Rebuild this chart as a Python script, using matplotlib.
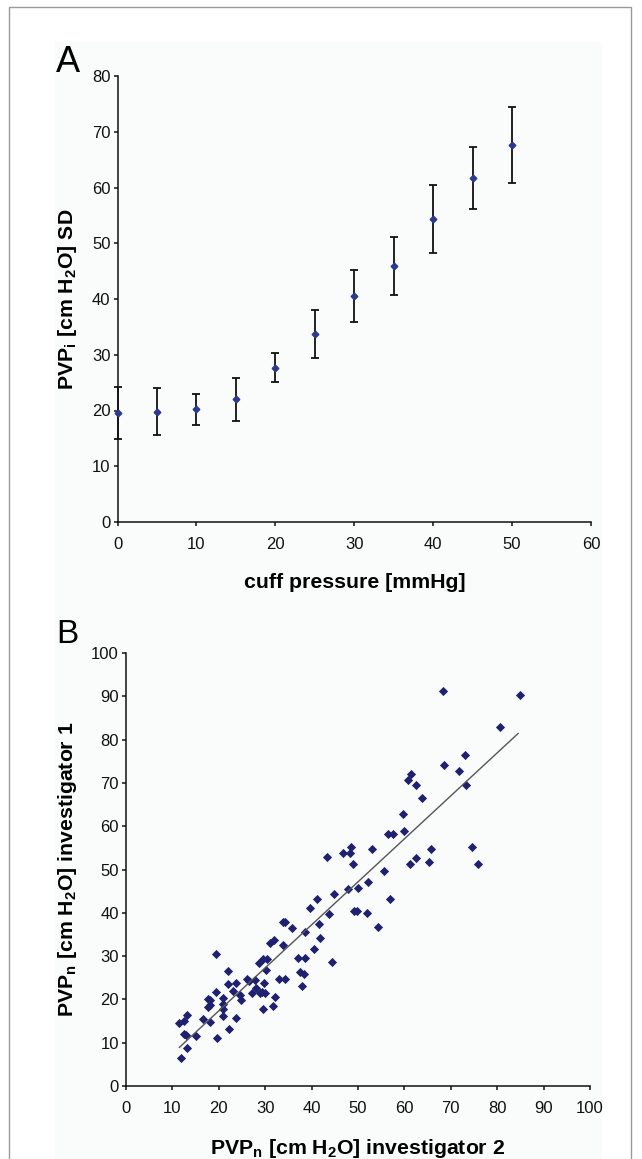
import matplotlib
matplotlib.use("Agg")
import matplotlib.pyplot as plt
from matplotlib.patches import Rectangle
import numpy as np

plt.rcParams['font.family'] = ['Liberation Sans', 'DejaVu Sans']
plt.rcParams['mathtext.fontset'] = 'custom'
plt.rcParams['mathtext.rm'] = 'Liberation Sans'
plt.rcParams['mathtext.default'] = 'regular'

# panel A: mean +/- SD per cuff pressure
cuff = [0, 5, 10, 15, 20, 25, 30, 35, 40, 45, 50]
pvp_mean = [19.6, 19.8, 20.2, 22.0, 27.7, 33.7, 40.5, 45.9, 54.3, 61.7, 67.6]
pvp_sd = [4.7, 4.2, 2.8, 3.9, 2.55, 4.3, 4.65, 5.2, 6.1, 5.6, 6.75]

# panel B: investigator 2 (x) vs investigator 1 (y)
inv2 = [11.85, 13.1, 11.5, 12.4, 13.2, 12.5, 12.9, 15.1, 16.7, 18.2,
        19.7, 17.6, 18.0, 17.7, 18.2, 19.4, 20.8, 21.0, 21.0, 20.8,
        22.1, 23.6, 19.4, 21.9, 21.9, 23.7, 23.0, 24.6, 24.8, 26.1,
        26.5, 27.1, 27.8, 28.0, 28.9, 29.4, 30.0, 28.6, 29.6, 30.3,
        29.7, 30.2, 29.5, 31.6, 32.1, 33.0, 34.3, 31.0, 31.9, 33.9,
        37.0, 38.6, 37.6, 38.4, 37.9, 40.6, 41.8, 44.5, 38.5, 33.9,
        34.3, 35.7, 41.6, 39.7, 41.2, 43.7, 44.9, 43.4, 46.7, 48.2,
        48.5, 47.9, 49.0, 53.0, 56.5, 57.6, 60.0, 55.5, 52.1, 50.1,
        49.1, 49.8, 51.9, 56.9, 54.4, 61.2, 62.5, 65.2, 65.7, 74.6,
        75.9, 68.4, 84.9, 80.5, 73.0, 71.8, 68.5, 73.3, 61.5, 60.8,
        62.6, 63.9, 59.8]
inv1 = [6.5, 8.7, 14.5, 14.9, 16.5, 12.0, 11.8, 11.6, 15.4, 14.8,
        11.0, 18.2, 18.6, 20.0, 19.9, 21.7, 20.4, 18.9, 17.8, 16.2,
        13.1, 15.8, 30.6, 26.5, 23.6, 23.7, 22.0, 21.0, 19.9, 24.6,
        24.3, 21.4, 24.5, 22.6, 21.4, 21.8, 21.4, 28.5, 29.3, 29.3,
        23.9, 26.8, 17.8, 18.5, 20.6, 24.6, 24.6, 33.0, 33.7, 32.6,
        29.6, 29.6, 26.4, 25.9, 23.1, 31.6, 34.2, 28.6, 35.5, 37.9,
        37.8, 36.6, 37.5, 41.0, 43.3, 39.7, 44.4, 53.0, 53.8, 53.7,
        55.2, 45.5, 51.3, 54.7, 58.2, 58.2, 58.8, 49.7, 47.2, 45.8,
        40.4, 40.4, 40.0, 43.3, 36.8, 51.3, 52.7, 51.7, 54.7, 55.1,
        51.3, 91.3, 90.3, 83.0, 76.4, 72.7, 74.1, 69.5, 72.1, 70.7,
        69.5, 66.4, 62.8]

# regression line as drawn in the figure
fit_slope = 0.993
fit_intercept = -2.5
fit_range = [11.5, 84.5]

W, H = 642, 1159
fig = plt.figure(figsize=(W / 100, H / 100), dpi=100)

# frame and light panel background (behind the axes)
fig.patches.append(Rectangle((55 / W, 0), 547 / W, 1 - 42 / H,
                             transform=fig.transFigure, facecolor='#fafcfc',
                             edgecolor='none', zorder=-2))
fig.patches.append(Rectangle((9 / W, -0.01), 622 / W, 1 - 7 / H + 0.01,
                             transform=fig.transFigure, fill=False,
                             edgecolor='#9a9a9a', linewidth=1, zorder=-1))


def style_axes(ax, xmax, ymax):
    ax.set_facecolor('none')
    for s in ['top', 'right']:
        ax.spines[s].set_visible(False)
    for s in ['left', 'bottom']:
        ax.spines[s].set_linewidth(1.1)
        ax.spines[s].set_color('#111111')
    ax.set_xlim(0, xmax)
    ax.set_ylim(0, ymax)
    ax.set_xticks(np.arange(0, xmax + 1, 10))
    ax.set_yticks(np.arange(0, ymax + 1, 10))
    ax.tick_params(direction='out', length=2.6, width=1.1, labelsize=12,
                   color='#111111', labelcolor='#111111')
    ax.tick_params(axis='x', pad=8)
    ax.tick_params(axis='y', pad=2.5)


# panel A
axA = fig.add_axes([117.5 / W, 1 - 522 / H, 473.5 / W, 446 / H])
style_axes(axA, 60, 80)
axA.errorbar(cuff, pvp_mean, yerr=pvp_sd, fmt='D', color='#2b3990',
             markersize=3.4, ecolor='#111111', elinewidth=1.3, capsize=2.6,
             capthick=1.3, clip_on=False, zorder=3)
fig.text(67.5 / W, 1 - 299 / H, r'PVP$_i$ [cm H$_2$O] SD', rotation=90,
         ha='center', va='center', fontsize=15.3, fontweight='bold')
fig.text(354.5 / W, 1 - 583 / H, 'cuff pressure [mmHg]', ha='center',
         va='center', fontsize=15.3, fontweight='bold')
fig.text(56 / W, 1 - 72 / H, 'A', fontsize=26, va='baseline')

# panel B
axB = fig.add_axes([126 / W, 1 - 1086 / H, 464 / W, 433 / H])
style_axes(axB, 100, 100)
axB.scatter(inv2, inv1, marker='D', s=22, color='#1f2070', linewidths=0,
            zorder=3)
fx = np.array(fit_range)
axB.plot(fx, fit_slope * fx + fit_intercept, color='#555555', linewidth=1.0,
         zorder=4)
fig.text(68 / W, 1 - 869.5 / H, r'PVP$_n$ [cm H$_2$O] investigator 1',
         rotation=90, ha='center', va='center', fontsize=15.3,
         fontweight='bold')
fig.text(358 / W, 1 - 1148 / H, r'PVP$_n$ [cm H$_2$O] investigator 2',
         ha='center', va='center', fontsize=15.3, fontweight='bold')
fig.text(56 / W, 1 - 643 / H, 'B', fontsize=24, va='baseline')

fig.savefig('out.png', dpi=100)
